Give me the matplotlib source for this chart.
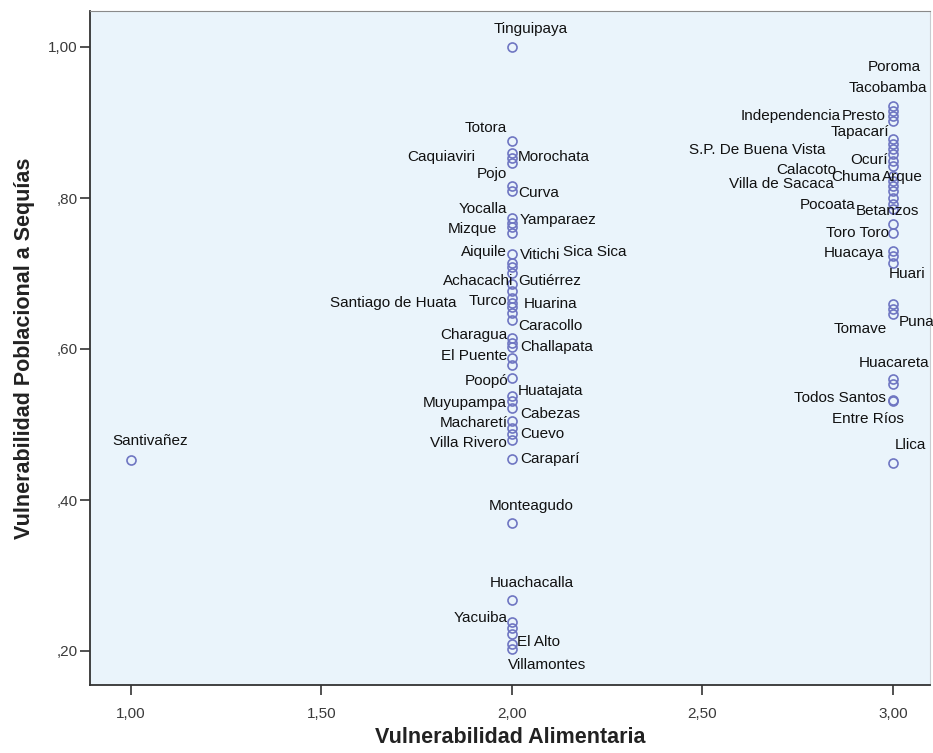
import matplotlib
matplotlib.use('Agg')
import matplotlib.pyplot as plt
from matplotlib.ticker import FuncFormatter

# Vulnerabilidad Alimentaria (x) vs Vulnerabilidad Poblacional a Sequias (y)
# "" = circle without label
centro_nombres = ['Tinguipaya', 'Totora', 'Caquiaviri', 'Morochata', '', 'Pojo', 'Curva',
                  'Yocalla', 'Yamparaez', '', 'Mizque', 'Aiquile', 'Vitichi', 'Sica Sica', '',
                  'Achacachi', 'Gutiérrez', 'Turco', 'Santiago de Huata', 'Huarina', '',
                  'Caracollo', 'Charagua', '', 'Challapata', 'El Puente', '', 'Poopó',
                  'Huatajata', 'Muyupampa', 'Cabezas', 'Macharetí', '', 'Cuevo',
                  'Villa Rivero', 'Caraparí', 'Monteagudo', 'Huachacalla', 'Yacuiba', '',
                  'El Alto', '', 'Villamontes']
centro_y = [1.000, 0.875, 0.860, 0.853, 0.847, 0.816, 0.809,
            0.774, 0.767, 0.761, 0.753, 0.726, 0.714, 0.708, 0.701,
            0.686, 0.677, 0.668, 0.661, 0.655, 0.648,
            0.639, 0.615, 0.608, 0.602, 0.588, 0.579, 0.562,
            0.538, 0.531, 0.522, 0.505, 0.496, 0.487,
            0.480, 0.454, 0.369, 0.268, 0.238, 0.231,
            0.222, 0.209, 0.202]

derecha_nombres = ['Poroma', 'Tacobamba', 'Independencia', 'Presto', 'Tapacarí', '',
                   'S.P. De Buena Vista', '', 'Ocurí', '', 'Calacoto', 'Chuma', 'Arque',
                   'Villa de Sacaca', '', 'Pocoata', 'Betanzos', '', 'Toro Toro', '',
                   'Huacaya', 'Huari', '', 'Tomave', 'Puna', 'Huacareta', '',
                   'Todos Santos', 'Entre Ríos', 'Llica']
derecha_y = [0.922, 0.915, 0.909, 0.902, 0.878, 0.871,
             0.865, 0.858, 0.849, 0.842, 0.829, 0.823, 0.816,
             0.809, 0.800, 0.792, 0.785, 0.765, 0.754, 0.730,
             0.723, 0.714, 0.659, 0.653, 0.646, 0.560, 0.553,
             0.533, 0.531, 0.449]

izquierda_nombres = ['Santivañez']
izquierda_y = [0.453]

x_ticks = [1.0, 1.5, 2.0, 2.5, 3.0]
y_ticks = [0.2, 0.4, 0.6, 0.8, 1.0]

# label placement: (dx px, dy px downward, ha)
etiquetas = {
    'Tinguipaya': (19, -18, 'center'), 'Totora': (-5, -13, 'right'),
    'Caquiaviri': (-37, 4, 'right'), 'Morochata': (6, -1, 'left'),
    'Pojo': (-5, -12, 'right'), 'Curva': (6, 2, 'left'),
    'Yocalla': (-5, -9, 'right'), 'Yamparaez': (8, -3, 'left'),
    'Mizque': (-15, -4, 'right'), 'Aiquile': (-5, -2, 'right'),
    'Vitichi': (8, -8, 'left'), 'Sica Sica': (51, -15, 'left'),
    'Achacachi': (1, -3, 'right'), 'Gutiérrez': (6, -10, 'left'),
    'Turco': (-5, 3, 'right'), 'Santiago de Huata': (-55, 0, 'right'),
    'Huarina': (12, -3, 'left'), 'Caracollo': (6, 6, 'left'),
    'Charagua': (-4, -3, 'right'), 'Challapata': (8, 0, 'left'),
    'El Puente': (-5, -2, 'right'), 'Poopó': (-4, 3, 'right'),
    'Huatajata': (6, -5, 'left'), 'Muyupampa': (-5, 2, 'right'),
    'Cabezas': (8, 6, 'left'), 'Macharetí': (-4, 2, 'right'),
    'Cuevo': (8, 0, 'left'), 'Villa Rivero': (-5, 3, 'right'),
    'Caraparí': (8, 0, 'left'), 'Monteagudo': (19, -17, 'center'),
    'Huachacalla': (20, -17, 'center'), 'Yacuiba': (-4, -4, 'right'),
    'El Alto': (5, 8, 'left'), 'Villamontes': (35, 16, 'center'),
    'Santivañez': (19, -19, 'center'),
    'Poroma': (28, -39, 'right'), 'Tacobamba': (34, -23, 'right'),
    'Independencia': (-52, 0, 'right'), 'Presto': (-7, -5, 'right'),
    'Tapacarí': (-4, -7, 'right'), 'S.P. De Buena Vista': (-67, 1, 'right'),
    'Ocurí': (-5, -1, 'right'), 'Calacoto': (-57, -6, 'right'),
    'Chuma': (-12, -4, 'right'), 'Arque': (-11, -9, 'left'),
    'Villa de Sacaca': (-59, -7, 'right'), 'Pocoata': (-37, 1, 'right'),
    'Betanzos': (-37, 2, 'left'), 'Toro Toro': (-4, 0, 'right'),
    'Huacaya': (-9, -3, 'right'), 'Huari': (-4, 11, 'left'),
    'Tomave': (-6, 20, 'right'), 'Puna': (6, 8, 'left'),
    'Huacareta': (-34, -16, 'left'), 'Todos Santos': (-7, -2, 'right'),
    'Entre Ríos': (11, 18, 'right'), 'Llica': (2, -18, 'left'),
}

fig = plt.figure(figsize=(9.33, 7.53), dpi=100, facecolor='white')
ax = fig.add_axes([90 / 933, 68 / 753, (930 - 90) / 933, (684 - 10) / 753])
ax.set_facecolor('#eaf4fb')

grupos = [(1.0, izquierda_nombres, izquierda_y),
          (2.0, centro_nombres, centro_y),
          (3.0, derecha_nombres, derecha_y)]

for xv, nombres, ys in grupos:
    ax.plot([xv] * len(ys), ys, 'o', linestyle='none', markersize=6.5,
            markerfacecolor='none', markeredgecolor='#6f76c2', markeredgewidth=1.2,
            clip_on=False, zorder=3)
    for n, yv in zip(nombres, ys):
        if not n:
            continue
        dx, dy, ha = etiquetas[n]
        ax.annotate(n, (xv, yv), xytext=(dx, -dy), textcoords='offset pixels',
                    ha=ha, va='center', fontsize=11, color='#111111',
                    family=['Liberation Sans', 'DejaVu Sans'], annotation_clip=False,
                    zorder=4)

ax.set_xlim(0.8924, 1 + (930 - 131) / 381)
ax.set_ylim(1 - (684 - 46) / 755, 1 + 36 / 755)
ax.set_xticks(x_ticks)
ax.set_yticks(y_ticks)

def fmt_x(v, pos):
    return f'{v:.2f}'.replace('.', ',')

def fmt_y(v, pos):
    s = f'{v:.2f}'.replace('.', ',')
    return s[1:] if s.startswith('0') else s

ax.xaxis.set_major_formatter(FuncFormatter(fmt_x))
ax.yaxis.set_major_formatter(FuncFormatter(fmt_y))
ax.tick_params(direction='out', length=7, width=1.2, color='#333333',
               labelsize=11, labelcolor='#3a3a3a')
ax.tick_params(axis='x', pad=9)
ax.tick_params(axis='y', pad=2)
for lab in ax.get_xticklabels() + ax.get_yticklabels():
    lab.set_family(['Liberation Sans', 'DejaVu Sans'])

for side in ['left', 'bottom']:
    ax.spines[side].set_color('#333333')
    ax.spines[side].set_linewidth(1.3)
ax.spines['top'].set_color('#8a8a8a')
ax.spines['right'].set_color('#c8ccd0')

axis_font = ['Liberation Sans Narrow', 'Liberation Sans', 'DejaVu Sans']
ax.set_xlabel('Vulnerabilidad Alimentaria', fontsize=15.5, fontweight='bold',
              color='#222222', family=axis_font, labelpad=4)
ax.set_ylabel('Vulnerabilidad Poblacional a Sequías', fontsize=15.5, fontweight='bold',
              color='#222222', family=axis_font, labelpad=9)

fig.savefig('out.png', dpi=100, facecolor='white')
